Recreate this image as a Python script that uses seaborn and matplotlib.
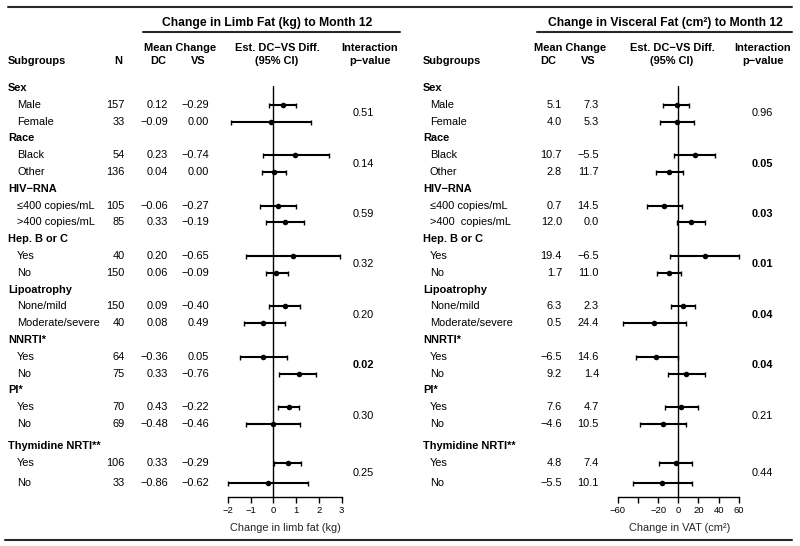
import matplotlib
matplotlib.use("Agg")
import numpy as np
import matplotlib.pyplot as plt
import seaborn as sns

# ---- data ----
groups = ["Sex", "Race", "HIV−RNA", "Hep. B or C", "Lipoatrophy", "NNRTI*", "PI*", "Thymidine NRTI**"]
subgroups = ["Male", "Female", "Black", "Other", "≤400 copies/mL", ">400 copies/mL",
             "Yes", "No", "None/mild", "Moderate/severe", "Yes", "No", "Yes", "No", "Yes", "No"]
subgroups_vat = ["Male", "Female", "Black", "Other", "≤400 copies/mL", ">400  copies/mL",
                 "Yes", "No", "None/mild", "Moderate/severe", "Yes", "No", "Yes", "No", "Yes", "No"]
n = [157, 33, 54, 136, 105, 85, 40, 150, 150, 40, 64, 75, 70, 69, 106, 33]

limb_dc = [0.12, -0.09, 0.23, 0.04, -0.06, 0.33, 0.20, 0.06, 0.09, 0.08, -0.36, 0.33, 0.43, -0.48, 0.33, -0.86]
limb_vs = [-0.29, 0.00, -0.74, 0.00, -0.27, -0.19, -0.65, -0.09, -0.40, 0.49, 0.05, -0.76, -0.22, -0.46, -0.29, -0.62]
limb_est = [0.42, -0.10, 0.96, 0.04, 0.20, 0.50, 0.86, 0.13, 0.50, -0.43, -0.43, 1.11, 0.67, -0.01, 0.63, -0.23]
limb_lo = [-0.21, -1.84, -0.45, -0.50, -0.60, -0.31, -1.18, -0.32, -0.18, -1.30, -1.45, 0.23, 0.19, -1.20, 0.01, -1.99]
limb_hi = [1.01, 1.67, 2.46, 0.57, 1.00, 1.36, 2.94, 0.63, 1.18, 0.53, 0.60, 1.89, 1.14, 1.15, 1.23, 1.50]
limb_p = ["0.51", "0.14", "0.59", "0.32", "0.20", "0.02", "0.30", "0.25"]

vat_dc = [5.1, 4.0, 10.7, 2.8, 0.7, 12.0, 19.4, 1.7, 6.3, 0.5, -6.5, 9.2, 7.6, -4.6, 4.8, -5.5]
vat_vs = [7.3, 5.3, -5.5, 11.7, 14.5, 0.0, -6.5, 11.0, 2.3, 24.4, 14.6, 1.4, 4.7, 10.5, 7.4, 10.1]
vat_est = [-1.7, -1.0, 16.7, -9.0, -14.0, 12.3, 26.0, -9.3, 4.3, -24.0, -21.7, 7.7, 2.7, -15.0, -2.3, -15.7]
vat_lo = [-15, -18, -4.3, -22.3, -31, -1.7, -8.3, -20.7, -7.7, -55, -42.3, -10.7, -13.3, -38.3, -19, -45]
vat_hi = [11, 16, 36.7, 5, 4, 26, 60.7, 2.3, 16.7, 7.3, 0, 26.7, 19.3, 7.7, 14, 14]
vat_p = ["0.96", "0.05", "0.03", "0.01", "0.04", "0.04", "0.21", "0.44"]

# ---- layout (pixel rows) ----
W, H = 800, 546
ys = []
for i in range(24):
    y = 88 + 16.8 * i
    if i >= 21:
        y += 5
    if i == 23:
        y += 4
    ys.append(y)
head_y = [ys[3 * g] for g in range(8)]
item_y = [ys[3 * g + k] for g in range(8) for k in (1, 2)]

sns.set_style("white")
plt.rcParams["font.family"] = ["Liberation Sans", "DejaVu Sans"]
FS = 7.9

fig = plt.figure(figsize=(8, 5.46), dpi=100)
bg = fig.add_axes([0, 0, 1, 1])
bg.set_xlim(0, W)
bg.set_ylim(H, 0)
bg.axis("off")


def fmt(v, d):
    return f"{v:.{d}f}".replace("-", "−")


def txt(x, y, s, ha="left", bold=False, size=FS):
    bg.text(x, y, s, ha=ha, va="center", fontsize=size,
            fontweight="bold" if bold else "normal", color="black")


line_kw = dict(color="#2a2a2a", lw=1.5)
bg.plot([8, 792], [6.5, 6.5], **line_kw)
bg.plot([5, 792], [540, 540], **line_kw)
bg.plot([143, 400], [32, 32], **line_kw)
bg.plot([537, 792], [32, 32], **line_kw)

# headers
txt(267, 23, "Change in Limb Fat (kg) to Month 12", "center", True, 8.7)
txt(665, 23, "Change in Visceral Fat (cm²) to Month 12", "center", True, 8.7)
txt(8, 61, "Subgroups", bold=True)
txt(118, 61, "N", "center", True)
txt(180, 48, "Mean Change", "center", True)
txt(158, 61, "DC", "center", True)
txt(198, 61, "VS", "center", True)
txt(277, 48, "Est. DC−VS Diff.", "center", True)
txt(277, 61, "(95% CI)", "center", True)
txt(370, 48, "Interaction", "center", True)
txt(370, 61, "p−value", "center", True)

txt(423, 61, "Subgroups", bold=True)
txt(570, 48, "Mean Change", "center", True)
txt(548, 61, "DC", "center", True)
txt(588, 61, "VS", "center", True)
txt(672, 48, "Est. DC−VS Diff.", "center", True)
txt(672, 61, "(95% CI)", "center", True)
txt(763, 48, "Interaction", "center", True)
txt(763, 61, "p−value", "center", True)

# table body
for g, name in enumerate(groups):
    txt(8, head_y[g], name, bold=True)
    txt(423, head_y[g], name, bold=True)
    pm = (item_y[2 * g] + item_y[2 * g + 1]) / 2
    txt(363, pm, limb_p[g], "center", float(limb_p[g]) <= 0.05)
    txt(762, pm, vat_p[g], "center", float(vat_p[g]) <= 0.05)

for i, y in enumerate(item_y):
    txt(17, y, subgroups[i])
    txt(125, y, str(n[i]), "right")
    txt(168, y, fmt(limb_dc[i], 2), "right")
    txt(209, y, fmt(limb_vs[i], 2), "right")
    txt(430, y, subgroups_vat[i])
    txt(562, y, fmt(vat_dc[i], 1), "right")
    txt(599, y, fmt(vat_vs[i], 1), "right")


# ---- forest panels ----
def forest(px0, px1, zero_px, ppu, est, lo, hi, ticks, ticklabels, bounds, xlabel):
    top, bot = 86, 497
    ax = fig.add_axes([px0 / W, 1 - bot / H, (px1 - px0) / W, (bot - top) / H])
    ax.patch.set_alpha(0)
    est = np.array(est)
    ax.errorbar(est, item_y, xerr=[est - np.array(lo), np.array(hi) - est], fmt="none",
                ecolor="black", elinewidth=1.5, capsize=1.8, capthick=1.0, zorder=2)
    sns.scatterplot(x=est, y=item_y, ax=ax, color="black", s=16, edgecolor="black",
                    linewidth=0, zorder=3, legend=False)
    ax.axvline(0, color="black", lw=1.0, zorder=1)
    ax.set_xlim((px0 - zero_px) / ppu, (px1 - zero_px) / ppu)
    ax.set_ylim(bot, top)
    ax.set_yticks([])
    for s in ["top", "right", "left"]:
        ax.spines[s].set_visible(False)
    ax.spines["bottom"].set_bounds(*bounds)
    ax.spines["bottom"].set_color("black")
    ax.spines["bottom"].set_linewidth(1.0)
    ax.set_xticks(ticks)
    ax.set_xticklabels(ticklabels)
    ax.tick_params(axis="x", direction="out", length=4.3, width=1.0, pad=2.2,
                   labelsize=6.8, bottom=True, colors="black")
    ax.set_xlabel(xlabel, fontsize=FS, labelpad=6)
    return ax


forest(215, 355, 273.3, 22.8, limb_est, limb_lo, limb_hi,
       [-2, -1, 0, 1, 2, 3], ["−2", "−1", "0", "1", "2", "3"], (-2, 3),
       "Change in limb fat (kg)")
forest(610, 750, 678.3, 1.008, vat_est, vat_lo, vat_hi,
       [-60, -40, -20, 0, 20, 40, 60], ["−60", "", "−20", "0", "20", "40", "60"], (-60, 60),
       "Change in VAT (cm²)")

fig.savefig("out.png", dpi=100)
